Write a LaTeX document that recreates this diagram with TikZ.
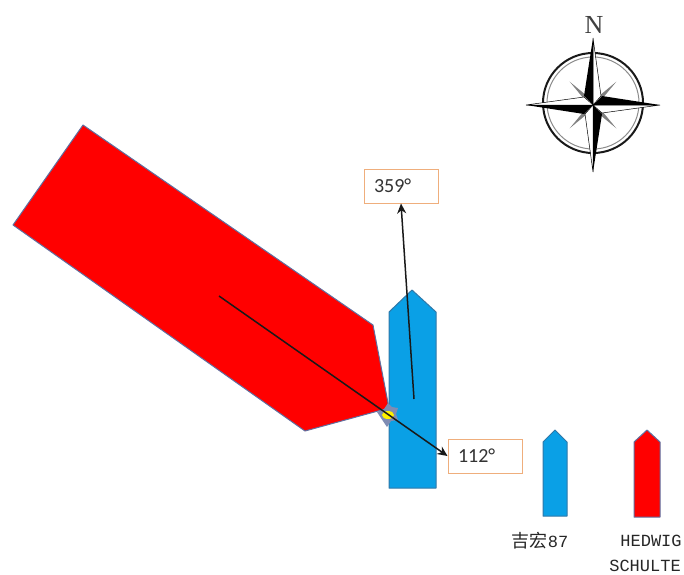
\documentclass[tikz,border=0pt]{standalone}
\usepackage{fontspec}
\setmainfont{Carlito}
\newfontfamily\legendfont{Liberation Mono}
\newfontfamily\cjkfont{Noto Sans CJK SC}
\newfontfamily\northfont{Liberation Serif}
\usetikzlibrary{arrows.meta}
\definecolor{shipblue}{HTML}{0AA0E6}
\definecolor{shipblueline}{HTML}{2F78A8}
\definecolor{shipred}{HTML}{FF0000}
\definecolor{shipredline}{HTML}{5F6FA0}
\definecolor{boxline}{HTML}{EFAE7C}
\tikzset{
    bluehull/.style={draw=shipblueline, fill=shipblue, line width=1pt, line join=round},
    redhull/.style={draw=shipredline, fill=shipred, line width=1pt, line join=round},
    headingbox/.style={draw=boxline, fill=white, line width=1pt, text width=54pt, inner xsep=10pt, inner ysep=0pt, minimum height=34pt, font=\fontsize{20}{22}\selectfont, text=black!80},
    headingline/.style={line width=1.5pt, -{Stealth[length=10pt, width=9pt]}, black!90},
    legendtext/.style={font=\legendfont\fontsize{17}{19}\selectfont, text=black!85, inner sep=0pt}
}
\begin{document}
\begin{tikzpicture}[x=1pt, y=-1pt]
            \useasboundingbox (0,0) rectangle (684,574);

            % ships
            \draw[bluehull] (412,290) -- (436,312) -- (436,488) -- (389,488) -- (389,312) -- cycle;
            \draw[redhull] (83,125) -- (373,325) -- (389,408) -- (305,431) -- (13,225) -- cycle;

            % contact point
            \fill[shipredline!80] (377,412) -- (384,409) -- (388,403) -- (392,407) -- (398,408) -- (396,414) -- (398,420) -- (391,421) -- (387,427) -- (383,421) -- cycle;
            \fill[yellow] (388,415) ellipse (6pt and 4pt);

            % headings
            \node[headingbox] (headingblue) at (401,186) {359°};
            \node[headingbox] (headingred) at (485,456) {112°};
            \coordinate (startblue) at (414,399);
            \coordinate (startred) at (219,296);
            \draw[headingline] (startblue) -- (headingblue.south);
            \draw[headingline] (startred) -- (headingred.west);

            % legend
            \draw[bluehull] (555,430) -- (567,442) -- (567,516) -- (543,516) -- (543,442) -- cycle;
            \draw[redhull] (647,430) -- (660,442) -- (660,517) -- (634,517) -- (634,442) -- cycle;
            \node[legendtext] (labelblue) at (540,541) {{\cjkfont\fontsize{18}{20}\selectfont 吉宏}87};
            \node[legendtext] (labelred) at (651,541) {HEDWIG};
            \node[legendtext] (labelredtwo) at (645,566) {SCHULTE};

            % compass
            \node[font=\northfont\fontsize{26}{28}\selectfont, text=black!75, inner sep=0pt] (north) at (594,25) {N};
            \draw[line width=2pt, black!90] (593,103) circle (50pt);
            \draw[line width=1pt, black!45] (593,103) circle (46pt);
            \foreach \a in {45,135,225,315} {
                \fill[black!50, shift={(593,105)}, rotate=\a] (-2,-12) -- (0,-33) -- (2,-12) -- cycle;
            }
            \foreach \a in {0,90,180,270} {
                \draw[fill=white, line width=0.5pt, shift={(593,105)}, rotate=\a] (0,0) -- (0,-67) -- (8,-9) -- cycle;
                \fill[black, shift={(593,105)}, rotate=\a] (0,0) -- (0,-67) -- (-9,-9) -- cycle;
            }
        \end{tikzpicture}
\end{document}
